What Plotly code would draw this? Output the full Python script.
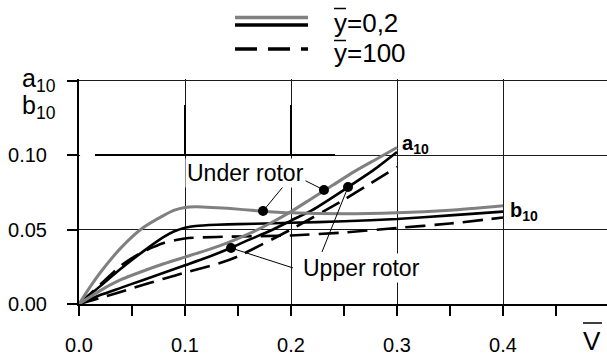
import plotly.graph_objects as go

# ---- data ----
V_a_under_02 = [0, 0.02, 0.04, 0.06, 0.08, 0.10, 0.12, 0.14, 0.16, 0.18, 0.20, 0.22, 0.24, 0.26, 0.28, 0.30]
a_under_02 = [0, 0.009, 0.0165, 0.022, 0.027, 0.0315, 0.036, 0.041, 0.047, 0.054, 0.062, 0.071, 0.080, 0.089, 0.097, 0.105]

V_a_upper_02 = [0, 0.02, 0.04, 0.06, 0.08, 0.10, 0.12, 0.143, 0.16, 0.18, 0.20, 0.22, 0.254, 0.28, 0.30]
a_upper_02 = [0, 0.006, 0.011, 0.016, 0.021, 0.026, 0.031, 0.0376, 0.043, 0.049, 0.056, 0.063, 0.0785, 0.091, 0.102]

V_a_100 = [0, 0.02, 0.05, 0.08, 0.10, 0.133, 0.15, 0.20, 0.25, 0.30]
a_100 = [0, 0.004, 0.0105, 0.017, 0.021, 0.0275, 0.032, 0.050, 0.070, 0.092]

V_b_under_02 = [0, 0.01, 0.02, 0.04, 0.06, 0.08, 0.09, 0.10, 0.11, 0.12, 0.14, 0.17, 0.20, 0.25, 0.30, 0.35, 0.40]
b_under_02 = [0, 0.011, 0.021, 0.038, 0.051, 0.0595, 0.063, 0.0648, 0.0652, 0.065, 0.0642, 0.0625, 0.0612, 0.0605, 0.0612, 0.063, 0.066]

V_b_upper_02 = [0, 0.02, 0.04, 0.06, 0.08, 0.09, 0.10, 0.11, 0.13, 0.15, 0.20, 0.25, 0.30, 0.35, 0.40]
b_upper_02 = [0, 0.012, 0.024, 0.035, 0.045, 0.0488, 0.0512, 0.0524, 0.0532, 0.0536, 0.0545, 0.0555, 0.057, 0.0595, 0.062]

V_b_100 = [0, 0.02, 0.04, 0.06, 0.08, 0.10, 0.13, 0.20, 0.25, 0.30, 0.35, 0.40]
b_100 = [0, 0.013, 0.026, 0.035, 0.041, 0.044, 0.045, 0.046, 0.048, 0.051, 0.054, 0.058]

dot_V = [0.1736, 0.2311, 0.2538, 0.1434]
dot_c = [0.0624, 0.0765, 0.0785, 0.0376]

x_ticks = [0, 0.1, 0.2, 0.3, 0.4]
x_ticktext = ["0.0", "0.1", "0.2", "0.3", "0.4"]
x_minor = [0.05, 0.15, 0.25, 0.35, 0.45]
y_ticks = [0, 0.05, 0.10, 0.15]
y_ticktext = ["0.00", "0.05", "0.10", ""]

GRAY = "#808080"
DASH = "20px,9px"
FONT = "Liberation Sans, Arial, sans-serif"

# plot area in pixels
L, R, T, B = 79, 607, 79, 304


def px(x):
    return (x - L) / (R - L)


def py(y):
    return (B - y) / (B - T)


fig = go.Figure()

def add(xv, yv, color, dash=None, width=2.6):
    fig.add_trace(go.Scatter(x=xv, y=yv, mode="lines", line=dict(color=color, width=width, dash=dash,
                                                                   shape="spline", smoothing=0.6),
                             showlegend=False, hoverinfo="skip"))

add(V_b_100, b_100, "black", DASH)
add(V_a_100, a_100, "black", DASH)
add(V_b_upper_02, b_upper_02, "black")
add(V_a_upper_02, a_upper_02, "black")
add(V_b_under_02, b_under_02, GRAY, width=3)
add(V_a_under_02, a_under_02, GRAY, width=3)

fig.add_trace(go.Scatter(x=dot_V, y=dot_c, mode="markers", marker=dict(color="black", size=10),
                         showlegend=False, hoverinfo="skip"))

shapes = []
# thicker grid fragments (artefacts in the original)
for xv in [0.1, 0.2]:
    shapes.append(dict(type="line", xref="x", yref="y", x0=xv, x1=xv, y0=0.1336, y1=0.10,
                       line=dict(color="black", width=2), layer="between"))
shapes.append(dict(type="line", xref="x", yref="y", x0=0.015, x1=0.2415, y0=0.10, y1=0.10,
                   line=dict(color="black", width=2), layer="between"))
shapes.append(dict(type="rect", xref="x", yref="y", x0=0.001, x1=0.015, y0=0.098, y1=0.102,
                   fillcolor="white", line=dict(width=0), layer="between"))

# leader lines
leaders = [((0.1736, 0.0624), (0.1962, 0.0819)),
           ((0.2311, 0.0765), (0.2104, 0.0839)),
           ((0.1434, 0.0376), (0.2019, 0.0242)),
           ((0.2538, 0.0785), (0.2292, 0.0349))]
for (x0, y0), (x1, y1) in leaders:
    shapes.append(dict(type="line", xref="x", yref="y", x0=x0, y0=y0, x1=x1, y1=y1,
                       line=dict(color="black", width=1)))

# legend symbols
shapes.append(dict(type="line", xref="paper", yref="paper", x0=px(235), x1=px(308), y0=py(17.5), y1=py(17.5),
                   line=dict(color=GRAY, width=3.5)))
shapes.append(dict(type="line", xref="paper", yref="paper", x0=px(235), x1=px(308), y0=py(25), y1=py(25),
                   line=dict(color="black", width=3.5)))
shapes.append(dict(type="line", xref="paper", yref="paper", x0=px(235), x1=px(308), y0=py(49), y1=py(49),
                   line=dict(color="black", width=3.5, dash="22px,11px")))
# overlines
for (x0, x1, yy) in [(334, 346, 8.5), (334, 346, 40.5), (583, 602, 323)]:
    shapes.append(dict(type="line", xref="paper", yref="paper", x0=px(x0), x1=px(x1), y0=py(yy), y1=py(yy),
                       line=dict(color="black", width=1.5)))

ann = []
def text(x, y, s, size, xanchor="left", yanchor="middle", bg=None, ref="paper"):
    d = dict(x=x, y=y, xref=ref, yref=ref, text=s, showarrow=False, xanchor=xanchor, yanchor=yanchor,
             font=dict(family=FONT, size=size, color="black"))
    if bg:
        d.update(bgcolor=bg, borderpad=1)
    ann.append(d)

text(px(332), py(23), "y=0,2", 26)
text(px(332), py(53), "y=100", 26)
text(px(20), py(80), "a<sub>10</sub>", 25)
text(px(20), py(107), "b<sub>10</sub>", 25)
text(px(592), py(341), "V", 26, xanchor="center")
text(0.1566, 0.0876, "Under rotor", 23, xanchor="center", bg="white", ref="x")
text(0.2665, 0.0242, "Upper rotor", 23, xanchor="center", bg="white", ref="x")
text(px(400), py(144), "<b>a<sub>10</sub></b>", 20)
text(px(508), py(211), "<b>b<sub>10</sub></b>", 20)
for a in ann:
    if a["xref"] == "x":
        a["yref"] = "y"

fig.update_layout(
    width=607, height=363,
    margin=dict(l=L, r=607 - R, t=T, b=363 - B),
    plot_bgcolor="white", paper_bgcolor="white",
    font=dict(family=FONT, size=20, color="black"),
    shapes=shapes, annotations=ann, showlegend=False,
    xaxis=dict(range=[0, (R - L) / 1060], tickvals=x_ticks, ticktext=x_ticktext,
               showgrid=True, gridcolor="#1a1a1a", gridwidth=1, zeroline=False,
               showline=True, linecolor="black", linewidth=2,
               ticks="outside", ticklen=10, tickwidth=2, tickcolor="black",
               ticklabelstandoff=12, tickfont=dict(size=20),
               minor=dict(tickvals=x_minor, ticks="outside", ticklen=10, tickwidth=2, tickcolor="black",
                          showgrid=False)),
    yaxis=dict(range=[0, (B - T) / 1490], tickvals=y_ticks, ticktext=y_ticktext,
               showgrid=True, gridcolor="#1a1a1a", gridwidth=1, zeroline=False,
               showline=True, linecolor="black", linewidth=2,
               ticks="outside", ticklen=10, tickwidth=2, tickcolor="black",
               ticklabelstandoff=16, tickfont=dict(size=20)),
)

fig.write_html("out.html")
